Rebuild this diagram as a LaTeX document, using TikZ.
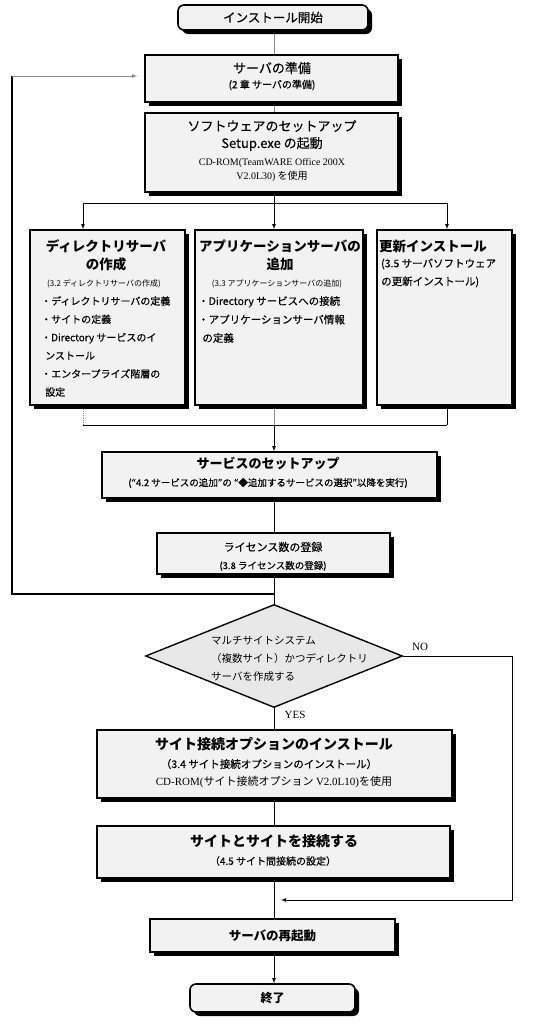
\documentclass[tikz,border=0pt]{standalone}
\usepackage{fontspec}
\setmainfont{Noto Sans CJK JP}
\newfontfamily\medfont{Noto Sans CJK JP}[FakeBold=0.3]
\newfontfamily\romanfont{Liberation Serif}
\usepackage{xcolor}
\usetikzlibrary{arrows}
\usetikzlibrary{shapes.geometric, shadows, backgrounds, math}

\definecolor{boxgray}{HTML}{F2F2F2}
\definecolor{decgray}{HTML}{E8E8E8}
\definecolor{linegray}{HTML}{8C8C8C}
\newcommand{\jfont}[2]{\fontsize{#1}{#2}\selectfont}

\begin{document}
\begin{tikzpicture}[x=1pt, y=-1pt,
  box/.style={draw, line width=1.6pt, fill=boxgray, inner sep=0pt,
    drop shadow={shadow xshift=4pt, shadow yshift=-4pt, fill=black, opacity=1}},
  rbox/.style={box, rounded corners=6pt},
  tx/.style={inner sep=0pt},
  ttl/.style={tx, font=\jfont{13.5}{18}\bfseries},
  link/.style={line width=0.8pt},
  glink/.style={line width=0.8pt, linegray}]
\tikzmath{
\ax=274; \lx=83; \rx=447; \fx=12;
}

\useasboundingbox (0,0) rectangle (540,1028);

% boxes
\node[rbox, minimum width=190, minimum height=25, font=\medfont\jfont{12.5}{14}] (start) at (273,17.5) {インストール開始};
\node[box, minimum width=253, minimum height=47] (prep) at (271.5,78.5) {};
\node[box, minimum width=253, minimum height=79] (setup) at (271.5,152.5) {};
\node[box, minimum width=155, minimum height=175] (dirsv) at (107.5,317.5) {};
\node[box, minimum width=168, minimum height=175] (appsv) at (279,317.5) {};
\node[box, minimum width=135, minimum height=175] (update) at (444.5,317.5) {};
\node[box, minimum width=335, minimum height=46] (svc) at (269.5,475) {};
\node[box, minimum width=233, minimum height=41] (lic) at (273.5,553.5) {};
\node[diamond, draw, line width=1.4pt, fill=decgray, inner sep=0pt,
  minimum width=257, minimum height=103] (dec) at (\ax,656) {};
\node[box, minimum width=355, minimum height=68] (siteopt) at (274.5,764) {};
\node[box, minimum width=353, minimum height=52] (siteconn) at (273.5,852) {};
\node[box, minimum width=245, minimum height=33, font=\jfont{12.5}{14}\bfseries] (reboot) at (272.5,935.5) {サーバの再起動};
\node[rbox, minimum width=165, minimum height=28, font=\jfont{12}{14}\bfseries] (finish) at (272.5,998) {終了};

% texts
\node[tx, font=\medfont\jfont{13}{16}] (prepA) at (272,68) {サーバの準備};
\node[tx, font=\medfont\jfont{10}{12}] (prepB) at (272,85) {(2 章 サーバの準備)};

\node[tx, font=\medfont\jfont{13}{16}] (setA) at (272,126) {ソフトウェアのセットアップ};
\node[tx, font=\medfont\jfont{13}{16}] (setB) at (272,144) {Setup.exe の起動};
\node[tx, align=center, font=\jfont{10}{14}] (setC) at (272,170)
  {{\romanfont CD-ROM(TeamWARE Office 200X}\\{\romanfont V2.0L30)} を使用};

\node[ttl, align=center] (dirA) at (106,255) {ディレクトリサーバ\\の作成};
\node[tx, font=\jfont{8}{10}] (dirB) at (104,284) {(3.2 ディレクトリサーバの作成)};
\node[tx, anchor=west, align=left, font=\medfont\jfont{10}{18.2}] (dirC) at (41,346.5)
  {・ディレクトリサーバの定義\\・サイトの定義\\・Directory サービスのイ\\\hspace{0.4em}ンストール\\・エンタープライズ階層の\\\hspace{0.4em}設定};

\node[ttl, align=center] (appA) at (280,255) {アプリケーションサーバの\\追加};
\node[tx, font=\jfont{8}{10}] (appB) at (277,284) {(3.3 アプリケーションサーバの追加)};
\node[tx, anchor=west, align=left, font=\medfont\jfont{10.5}{18.5}] (appC) at (198,319.5)
  {・Directory サービスへの接続\\・アプリケーションサーバ情報\\\hspace{0.4em}の定義};

\node[ttl, anchor=west] (updA) at (379,246) {更新インストール};
\node[tx, anchor=west, align=left, font=\medfont\jfont{10.5}{18}] (updB) at (381,273)
  {(3.5 サーバソフトウェア\\の更新インストール)};

\node[ttl, font=\jfont{13}{16}\bfseries] (svcA) at (268,463) {サービスのセットアップ};
\node[tx, font=\medfont\jfont{9.5}{12}] (svcB) at (268,483) {(“4.2 サービスの追加”の “◆追加するサービスの選択”以降を実行)};

\node[tx, font=\medfont\jfont{11}{14}] (licA) at (273,547) {ライセンス数の登録};
\node[tx, font=\medfont\jfont{9.5}{12}] (licB) at (273,566) {(3.8 ライセンス数の登録)};

\node[tx, anchor=west, align=left, font=\jfont{10.5}{18}] (decT) at (211,659)
  {マルチサイトシステム\\（複数サイト）かつディレクトリ\\サーバを作成する};
\node[tx, font=\romanfont\fontsize{11}{13}\selectfont] (no) at (420,647) {NO};
\node[tx, font=\romanfont\fontsize{11}{13}\selectfont] (yes) at (295,715) {YES};

\node[ttl, font=\jfont{14}{16}\bfseries] (optA) at (274,744) {サイト接続オプションのインストール};
\node[tx, font=\medfont\jfont{10.5}{12}] (optB) at (269,764) {（3.4 サイト接続オプションのインストール）};
\node[tx, font=\jfont{11}{13}] (optC) at (274,782)
  {{\romanfont CD-ROM(}サイト接続オプション {\romanfont V2.0L10)}を使用};

\node[ttl, font=\jfont{14}{16}\bfseries] (connA) at (274,841) {サイトとサイトを接続する};
\node[tx, font=\medfont\jfont{10}{12}] (connB) at (273,861) {（4.5 サイト間接続の設定）};

% connectors
\coordinate (axis) at (\ax,0);
\coordinate (brL) at (\lx,203);
\coordinate (brM) at (\ax,203);
\coordinate (brR) at (\rx,203);
\coordinate (jnL) at (\lx,425);
\coordinate (jnM) at (\ax,425);
\coordinate (jnR) at (\rx,425);
\coordinate (loop) at (\ax,594);
\coordinate (back) at (\fx,76);
\coordinate (nocor) at (512,900);
\coordinate (nojoin) at (281,900);

\begin{scope}[on background layer]
\draw[glink] (start.south -| axis) -- (prep.north -| axis);
\draw[glink] (prep.south -| axis) -- (setup.north -| axis);
\draw[link] (setup.south -| axis) -- (brM);
\draw[link] (brL) -- (brR);
\draw[link, -latex] (brL) -- (brL |- dirsv.north);
\draw[link, -latex] (brM) -- (brM |- appsv.north);
\draw[link, -latex] (brR) -- (brR |- update.north);

\draw[glink, densely dotted] (jnL |- dirsv.south) -- (jnL);
\draw[glink] (jnM |- appsv.south) -- (jnM);
\draw[link] (jnR |- update.south) -- (jnR);
\draw[link] (jnL) -- (jnR);
\draw[link, -latex] (jnM) -- (svc.north -| axis);

\draw[link] (svc.south -| axis) -- (lic.north -| axis);
\draw[link] (lic.south -| axis) -- (dec.north);
\draw[link, line width=1.2pt] (loop) -| (back);
\draw[glink, -latex] (back) -- ([xshift=-7pt]prep.west |- back);

\draw[link] (dec.south) -- (siteopt.north -| axis);
\draw[link, -latex] (dec.east) -- (dec.east -| nocor) -- (nocor) -- (nojoin);
\draw[link] (siteopt.south -| axis) -- (siteconn.north -| axis);
\draw[link] (siteconn.south -| axis) -- (reboot.north -| axis);
\draw[link, -latex] (reboot.south -| axis) -- (finish.north -| axis);
\end{scope}
\end{tikzpicture}
\end{document}
